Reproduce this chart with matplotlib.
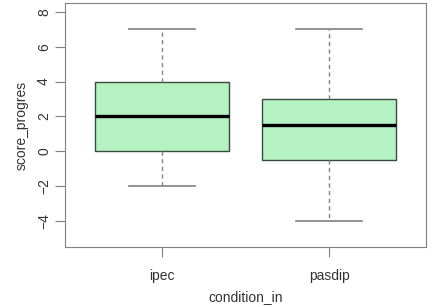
import matplotlib
matplotlib.use("Agg")
import matplotlib.pyplot as plt

plt.rcParams['font.family'] = ['Liberation Sans', 'DejaVu Sans']

# group labels and box statistics
groups = ['ipec', 'pasdip']
whisker_low = [-2, -4]
q1 = [0, -0.5]
medians = [2, 1.5]
q3 = [4, 3]
whisker_high = [7, 7]

stats = []
for i, g in enumerate(groups):
    stats.append({'label': g, 'whislo': whisker_low[i], 'q1': q1[i],
                  'med': medians[i], 'q3': q3[i], 'whishi': whisker_high[i]})

fig = plt.figure(figsize=(4.39, 3.07), dpi=100)
ax = fig.add_axes([65 / 439, 1 - 247 / 307, (426 - 65) / 439, (247 - 3) / 307])

gray = '#808080'
txt = '#333333'
ax.bxp(stats, positions=[1, 2], widths=0.8, showfliers=False, patch_artist=True,
       boxprops=dict(facecolor='#b4f2c2', edgecolor='#3a4a3e', linewidth=1.0),
       medianprops=dict(color='black', linewidth=2.4),
       whiskerprops=dict(color=gray, linestyle=(0, (3, 2.5)), linewidth=1.0),
       capprops=dict(color=gray, linewidth=1.2),
       capwidths=0.4)

ax.set_xlim(0.42, 2.58)
ax.set_ylim(-5.52, 8.52)
ax.set_yticks([-4, -2, 0, 2, 4, 6, 8])
ax.set_xticks([1, 2])
ax.set_xticklabels(groups)
for lab in ax.get_yticklabels():
    lab.set_rotation(90)
    lab.set_va('center')
for s in ax.spines.values():
    s.set_color(gray)
ax.tick_params(colors=gray, labelcolor=txt, length=7, labelsize=10)
ax.tick_params(axis='y', pad=3)
ax.tick_params(axis='x', pad=9)
ax.set_ylabel('score_progres', fontsize=10, color=txt, labelpad=6)
ax.set_xlabel('condition_in', fontsize=10, color=txt, labelpad=5)

fig.savefig('out.png', dpi=100)
